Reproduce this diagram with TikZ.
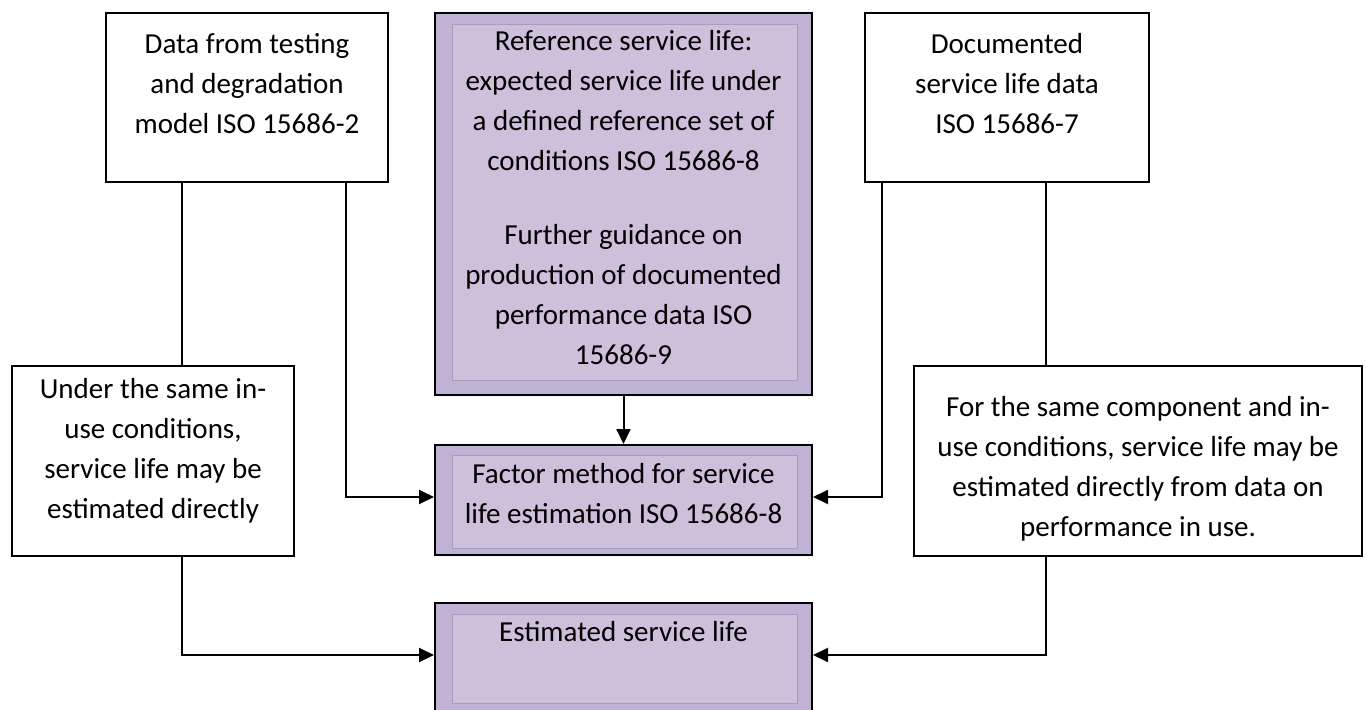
\documentclass[tikz,border=0pt]{standalone}
\usepackage{fontspec}
\setmainfont{Carlito}
\usetikzlibrary{arrows.meta,fit}
\definecolor{outerP}{HTML}{C0B2D4}
\definecolor{innerP}{HTML}{CCC0DB}
\definecolor{innerB}{HTML}{A99BBB}
\begin{document}
\begin{tikzpicture}[x=1pt,y=-1pt,
  box/.style={draw=black, line width=2pt, fill=white, inner sep=0pt},
  pbox/.style={draw=black, line width=2pt, fill=outerP, inner sep=0pt},
  pinner/.style={draw=innerB, line width=0.8pt, fill=innerP, inner sep=0pt},
  txt/.style={font=\fontsize{29}{40}\selectfont, align=center, anchor=north, inner sep=0pt},
  ln/.style={line width=2pt},
  arr/.style={line width=2pt, -{Triangle[length=15pt,width=14pt]}}]
\useasboundingbox (0,0) rectangle (1367,709);
% boxes
\node[box, fit={(106,13) (388,182)}] (A) {};
\node[box, fit={(865,13) (1149,182)}] (D) {};
\node[box, fit={(12,366) (294,556)}] (U) {};
\node[box, fit={(914,366) (1362,556)}] (S) {};
\node[pbox, fit={(435,13) (812,395)}] (R) {};
\node[pinner, fit={(452,24) (797,380)}] (Rin) {};
\node[pbox, fit={(435,445) (812,555)}] (F) {};
\node[pinner, fit={(452,455) (797,548)}] (Fin) {};
\node[pbox, fit={(435,603) (812,725)}] (E) {};
\node[pinner, fit={(452,614) (797,703)}] (Ein) {};
% texts
\node[txt] (At) at (247,25) {\strut Data from testing\\and degradation\\model ISO 15686-2};
\node[txt] (Dt) at (1007,25) {\strut Documented\\service life data\\ISO 15686-7};
\node[txt] (Rt) at (623.5,22) {\strut Reference service life:\\expected service life under\\a defined reference set of\\conditions ISO 15686-8\\[34pt]Further guidance on\\production of documented\\performance data ISO\\15686-9};
\node[txt] (Ft) at (623.5,455) {\strut Factor method for service\\life estimation ISO 15686-8};
\node[txt] (Et) at (623.5,613) {\strut Estimated service life};
\node[txt] (Ut) at (153,370) {\strut Under the same in-\\use conditions,\\service life may be\\estimated directly};
\node[txt] (St) at (1138,388) {\strut For the same component and in-\\use conditions, service life may be\\estimated directly from data on\\performance in use.};
% connector columns
\coordinate (xa) at (182,0);
\coordinate (xb) at (346,0);
\coordinate (xc) at (882,0);
\coordinate (xd) at (1046,0);
% connectors
\draw[ln] (A.south -| xa) -- (U.north -| xa);
\draw[arr] (A.south -| xb) |- ([yshift=3pt]F.west);
\draw[arr] (R.south) -- (F.north);
\draw[arr] (D.south -| xc) |- ([yshift=3pt]F.east);
\draw[ln] (D.south -| xd) -- (S.north -| xd);
\draw[arr] (U.south -| xa) |- ([yshift=9pt]E.west);
\draw[arr] (S.south -| xd) |- ([yshift=9pt]E.east);
\end{tikzpicture}
\end{document}
